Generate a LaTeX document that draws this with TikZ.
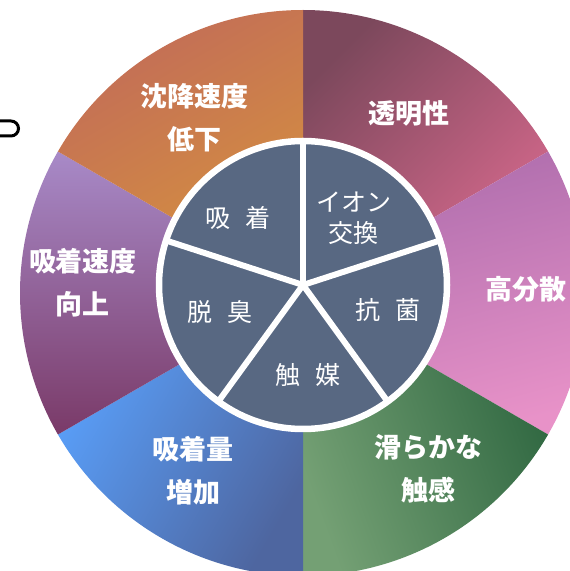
\documentclass[tikz,border=0pt]{standalone}
\usepackage{fontspec}
\newfontfamily\jp{Noto Sans CJK JP}
\definecolor{slate}{HTML}{586882}
\definecolor{aA}{HTML}{7C485C}\definecolor{aB}{HTML}{D86A8E}
\definecolor{bA}{HTML}{AC6CAC}\definecolor{bB}{HTML}{E892C8}
\definecolor{cA}{HTML}{2E6640}\definecolor{cB}{HTML}{74A074}
\definecolor{dA}{HTML}{5AA2FE}\definecolor{dB}{HTML}{4E66A0}
\definecolor{eA}{HTML}{A88AC8}\definecolor{eB}{HTML}{7A3A68}
\definecolor{fA}{HTML}{C26C58}\definecolor{fB}{HTML}{D6923E}
\begin{document}
\begin{tikzpicture}[x=1pt,y=1pt,
  outerlbl/.style={text=white, font=\jp\bfseries\fontsize{27}{43}\selectfont, align=center, inner sep=0pt},
  innerlbl/.style={text=white, font=\jp\fontsize{25}{31}\selectfont, align=center, inner sep=0pt},
  spoke/.style={draw=white, line width=6pt},
  ring/.style={draw=white, line width=6.5pt, fill=slate}]
\useasboundingbox (0,0) rectangle (570,571);
\clip (0,0) rectangle (570,571);
\coordinate (O) at (303,278);
\def\R{283}
% outer sectors
\path[top color=aA, bottom color=aB, shading angle=45] (O) -- ++(90:\R) arc[start angle=90,end angle=30,radius=\R] -- cycle;
\path[top color=bA, bottom color=bB, shading angle=15] (O) -- ++(30:\R) arc[start angle=30,end angle=-30,radius=\R] -- cycle;
\path[top color=cA, bottom color=cB, shading angle=-70] (O) -- ++(-30:\R) arc[start angle=-30,end angle=-90,radius=\R] -- cycle;
\path[top color=dA, bottom color=dB, shading angle=60] (O) -- ++(-90:\R) arc[start angle=-90,end angle=-150,radius=\R] -- cycle;
\path[top color=eA, bottom color=eB, shading angle=0] (O) -- ++(-150:\R) arc[start angle=-150,end angle=-210,radius=\R] -- cycle;
\path[top color=fA, bottom color=fB, shading angle=30] (O) -- ++(150:\R) arc[start angle=150,end angle=90,radius=\R] -- cycle;
% outer labels
\node[outerlbl] (l1) at (194,453) {沈降速度\\低下};
\node[outerlbl] (l2) at (409,457.5) {透明性};
\node[outerlbl] (l3) at (526,282) {高分散};
\node[outerlbl] (l4) at (428,102) {滑らかな\\触感};
\node[outerlbl] (l5) at (193,100.5) {吸着量\\増加};
\node[outerlbl] (l6) at (83,288.5) {吸着速度\\向上};
% inner disc
\coordinate (I) at (303,286);
\path[ring] (I) circle[radius=144];
\foreach \a in {90,18,-54,-126,162} \draw[spoke] (I) -- ++(\a:144);
\fill[white] (I) circle[radius=4];
% inner labels
\node[innerlbl] (k1) at (238,352.5) {吸\hspace{0.6em}着};
\node[innerlbl] (k2) at (353.5,353) {イオン\\交換};
\node[innerlbl] (k3) at (388,261) {抗\hspace{0.6em}菌};
\node[innerlbl] (k4) at (307.5,195.5) {触\hspace{0.6em}媒};
\node[innerlbl] (k5) at (220,258.5) {脱\hspace{0.6em}臭};
% cropped fragment at the left edge
\draw[line width=3pt] (0,450) -- (11,450) arc[start angle=90,end angle=-90,radius=7.5] -- (0,435);
\end{tikzpicture}
\end{document}
